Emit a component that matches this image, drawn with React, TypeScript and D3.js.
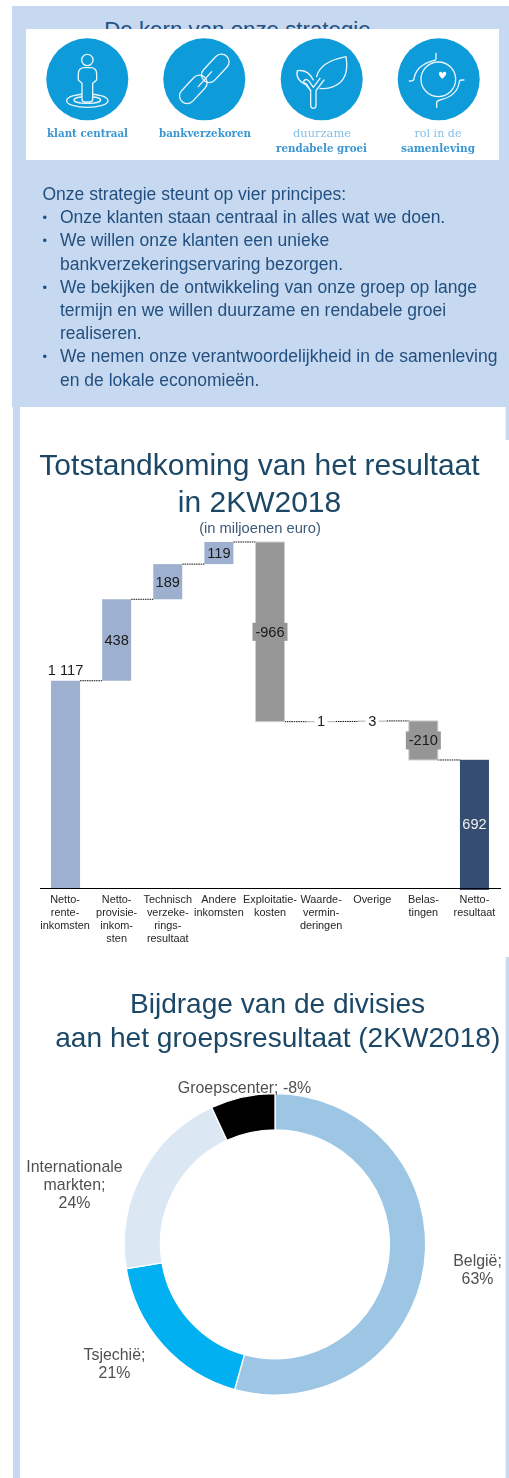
import React from "react";
import * as d3 from "d3";

const W = 509, H = 1478;
const FONT = "'Liberation Sans', Arial, sans-serif";

// ---------- data ----------
const wfKeys = ["nri", "nci", "tech", "oth", "exp", "imp", "ovr", "tax", "net"];
const wfValues = [1117, 438, 189, 119, -966, 1, 3, -210, 692];
const wfValueLabels = ["1 117", "438", "189", "119", "-966", "1", "3", "-210", "692"];
const wfCategoryLines = [
  ["Netto-", "rente-", "inkomsten"],
  ["Netto-", "provisie-", "inkom-", "sten"],
  ["Technisch", "verzeke-", "rings-", "resultaat"],
  ["Andere", "inkomsten"],
  ["Exploitatie-", "kosten"],
  ["Waarde-", "vermin-", "deringen"],
  ["Overige"],
  ["Belas-", "tingen"],
  ["Netto-", "resultaat"],
];
const divisionNames = ["België", "Tsjechië", "Internationale markten", "Groepscenter"];
const divisionShares = [63, 21, 24, 8];
const divisionColors = ["#9dc6e4", "#00b0f0", "#dbe8f4", "#000000"];
const divisionLabels = [
  { lines: ["België;", "63%"], x: 477.5, y: 1266 },
  { lines: ["Tsjechië;", "21%"], x: 114.5, y: 1360 },
  { lines: ["Internationale", "markten;", "24%"], x: 74.5, y: 1172 },
  { lines: ["Groepscenter; -8%"], x: 244.5, y: 1093 },
];
const introLines = [
  { t: "Onze strategie steunt op vier principes:", x: 42.5 },
  { t: "Onze klanten staan centraal in alles wat we doen.", x: 60, b: true },
  { t: "We willen onze klanten een unieke", x: 60, b: true },
  { t: "bankverzekeringservaring bezorgen.", x: 60 },
  { t: "We bekijken de ontwikkeling van onze groep op lange", x: 60, b: true },
  { t: "termijn en we willen duurzame en rendabele groei", x: 60 },
  { t: "realiseren.", x: 60 },
  { t: "We nemen onze verantwoordelijkheid in de samenleving", x: 60, b: true },
  { t: "en de lokale economieën.", x: 60 },
];
const iconCaptions = [
  { t: "klant centraal", x: 87.5, y: 136.5, w: 81, bold: true },
  { t: "bankverzekoren", x: 205, y: 136.5, w: 92, bold: true },
  { t: "duurzame", x: 322, y: 136.5, w: 58, bold: false },
  { t: "rendabele groei", x: 321.5, y: 151.5, w: 91, bold: true },
  { t: "rol in de", x: 438, y: 136.5, w: 47, bold: false },
  { t: "samenleving", x: 438, y: 151.5, w: 74, bold: true },
];
const iconCentersX = [87.3, 204.3, 321.7, 438.7];

// ---------- scales ----------
const xBand = d3.scaleBand<string>().domain(wfKeys).range([40, 500]).paddingInner(0.4325).paddingOuter(0.216);
const yWf = d3.scaleLinear().domain([0, 1863]).range([888.5, 542]);

type Step = { key: string; start: number; end: number; value: number; label: string; total: boolean; idx: number };
const steps: Step[] = [];
{
  let run = 0;
  wfValues.forEach((v, i) => {
    const total = i === wfValues.length - 1;
    const start = total ? 0 : run;
    const end = total ? v : run + v;
    steps.push({ key: wfKeys[i], start, end, value: v, label: wfValueLabels[i], total, idx: i });
    run = end;
  });
}

const pieGen = d3.pie<number>().sort(null).value((d) => d);
const arcGen = d3.arc<d3.PieArcDatum<number>>().innerRadius(114.5).outerRadius(150.7);

function Waterfall() {
  const bw = xBand.bandwidth();
  return (
    <g fontFamily={FONT}>
      {steps.map((s, i) => {
        if (i === steps.length - 1) return null;
        const x1 = xBand(s.key)! + bw;
        const x2 = xBand(steps[i + 1].key)!;
        return <line key={s.key} x1={x1} x2={x2} y1={yWf(s.end)} y2={yWf(s.end)} stroke="#111" strokeWidth={1} strokeDasharray="1.5 0.8" />;
      })}
      {steps.map((s) => {
        const x = xBand(s.key)!;
        const top = yWf(Math.max(s.start, s.end));
        const bot = yWf(Math.min(s.start, s.end));
        const neg = s.value < 0;
        const small = Math.abs(s.value) < 10;
        const fill = s.total ? "#364d70" : neg ? "#969696" : "#9db0cf";
        return (
          <rect key={s.key} x={x} y={top} width={bw} height={s.total ? bot - top + 1.5 : Math.max(bot - top, 0.5)}
            fill={fill} stroke={small ? "#bdbdbd" : neg ? "#d0d0d0" : "none"} strokeWidth={small ? 0.6 : 1} />
        );
      })}
      <line x1={40} x2={501} y1={888.5} y2={888.5} stroke="#000" strokeWidth={1} />
      {steps.map((s) => {
        const cx = xBand(s.key)! + bw / 2;
        const neg = s.value < 0;
        const small = Math.abs(s.value) < 10;
        const first = s.idx === 0;
        const mid = (yWf(s.start) + yWf(s.end)) / 2;
        const y = first ? 675 : mid + 4.8;
        return (
          <g key={s.key}>
            {neg && <rect x={cx - 17.5} y={mid - 9} width={35} height={18} fill="#969696" />}
            {small && <rect x={cx - 6.5} y={mid - 9} width={13} height={18} fill="#fff" />}
            <text x={cx} y={y} textAnchor="middle" fontSize={14.6} fill={s.total ? "#f2f2f2" : "#1a1a1a"}>{s.label}</text>
          </g>
        );
      })}
      {wfCategoryLines.map((lines, i) => (
        <text key={wfKeys[i]} textAnchor="middle" fontSize={10.9} fill="#262626">
          {lines.map((l, j) => (
            <tspan key={j} x={xBand(wfKeys[i])! + bw / 2 + (i === 0 ? -0.5 : 0)} y={903 + j * 13}>{l}</tspan>
          ))}
        </text>
      ))}
    </g>
  );
}

function Donut() {
  const arcs = pieGen(divisionShares);
  return (
    <g fontFamily={FONT}>
      <g transform="translate(275,1244.3)">
        {arcs.map((a, i) => (
          <path key={divisionNames[i]} d={arcGen(a)!} fill={divisionColors[i]} stroke="#fff" strokeWidth={1.3} />
        ))}
      </g>
      {divisionLabels.map((l, i) => (
        <text key={divisionNames[i]} textAnchor="middle" fontSize={15.9} fill="#505050">
          {l.lines.map((t, j) => (
            <tspan key={j} x={l.x} y={l.y + j * 18}>{t}</tspan>
          ))}
        </text>
      ))}
    </g>
  );
}

function Icons() {
  const line = { fill: "none", stroke: "#e8f5fc", strokeWidth: 4, strokeLinecap: "round" as const, strokeLinejoin: "round" as const };
  const blue = "#0f9bd9";
  return (
    <g filter="url(#soft)">
      {iconCentersX.map((cx) => <circle key={cx} cx={cx} cy={79.3} r={41} fill={blue} />)}
      <g transform="translate(30,30) scale(0.3333)">
        <ellipse cx={172} cy={212} rx={62} ry={20} {...line} />
        <ellipse cx={172} cy={210} rx={40} ry={10} {...line} />
        <circle cx={172} cy={90} r={17} {...line} />
        <path d="M156,208 L156,160 L145,150 L145,132 Q145,113 164,113 L181,113 Q200,113 200,132 L200,150 L188,160 L188,208 Q188,216 180,216 L164,216 Q156,216 156,208Z" {...line} fill={blue} />
        <g transform="rotate(-47 556 115)"><rect x={506} y={92} width={100} height={46} rx={23} {...line} /></g>
        <g transform="rotate(-47 490 178)"><rect x={440} y={155} width={100} height={46} rx={23} {...line} /></g>
        <path d="M505,170 L545,125" {...line} />
      </g>
      <g transform="translate(270,30) scale(0.3333)">
        <path d="M130,235 Q122,235 122,226 L122,182 L108,160 M138,226 Q138,235 130,235 M138,226 L138,182 L162,150" {...line} />
        <path d="M122,182 L100,155 Q110,140 122,160 L130,172 L150,145" {...line} />
        <path d="M110,165 Q75,150 82,122 Q115,118 130,150" {...line} />
        <path d="M140,140 Q150,95 228,80 Q240,150 190,170 Q170,178 150,175" {...line} />
        <circle cx={505} cy={148} r={52} {...line} />
        <path d="M498,70 L498,84 Q500,90 490,92 Q440,105 432,145 Q432,153 424,153 L418,153" {...line} />
        <path d="M500,232 L500,218 Q500,212 510,210 Q562,198 568,156 Q568,150 576,150 L582,150" {...line} />
        <path d="M517,146 C505,136 504,126 512,125 Q516,125 517,130 Q519,125 524,125 C532,127 530,136 517,146Z" fill="#fff" />
      </g>
      {iconCaptions.map((c) => (
        <text key={c.t} x={c.x} y={c.y} textAnchor="middle" fontFamily="'DejaVu Serif', serif"
          fontWeight={c.bold ? 700 : 400} fontSize={10.5} textLength={c.w} lengthAdjust="spacingAndGlyphs"
          fill={c.bold ? "#3a97d3" : "#86c1e8"}>{c.t}</text>
      ))}
    </g>
  );
}

export default function App() {
  const panel = "#c6d9f1";
  const ink = "#24507f";
  const title = "#1b4766";
  return (
    <svg width={W} height={H} viewBox={`0 0 ${W} ${H}`} style={{ position: "absolute", left: 0, top: 0, display: "block" }} fontFamily={FONT}>
      <defs>
        <filter id="soft" x="-5%" y="-5%" width="110%" height="110%"><feGaussianBlur stdDeviation="0.55" /></filter>
        <filter id="page" filterUnits="userSpaceOnUse" x="0" y="0" width={W} height={H}><feGaussianBlur stdDeviation="0.25" /></filter>
      </defs>
      <rect width={W} height={H} fill="#fff" />
      <rect x={12} y={6} width={W - 12} height={401} fill={panel} />
      <rect x={13} y={407} width={7} height={H - 407} fill={panel} />
      <rect x={505.7} y={407} width={W - 505.7} height={33} fill={panel} />
      <rect x={505.7} y={957} width={W - 505.7} height={H - 957} fill={panel} />

      <text x={237.5} y={37} textAnchor="middle" fontSize={22.3} fill={ink}>De kern van onze strategie</text>
      <rect x={26} y={29} width={473} height={131} fill="#fff" />
      <Icons />

      <g filter="url(#page)">
        <text fontSize={17.5} fill={ink}>
          {introLines.map((l, i) => (
            <tspan key={i} x={l.x} y={200 + i * 23.2}>{l.t}</tspan>
          ))}
        </text>
        {introLines.map((l, i) => l.b ? (
          <text key={i} x={42.5} y={199 + i * 23.2} fontSize={13} fill={ink}>•</text>
        ) : null)}

        <g fill={title} textAnchor="middle" fontSize={30}>
          <text x={259.5} y={475}>Totstandkoming van het resultaat</text>
          <text x={259.5} y={511.5}>in 2KW2018</text>
        </g>
        <text x={260} y={533} textAnchor="middle" fontSize={14.7} fill="#3c5a78">(in miljoenen euro)</text>
        <Waterfall />

        <g fill={title} textAnchor="middle" fontSize={28.1}>
          <text x={277.5} y={1013}>Bijdrage van de divisies</text>
          <text x={277.8} y={1047}>aan het groepsresultaat (2KW2018)</text>
        </g>
        <Donut />
      </g>
    </svg>
  );
}
